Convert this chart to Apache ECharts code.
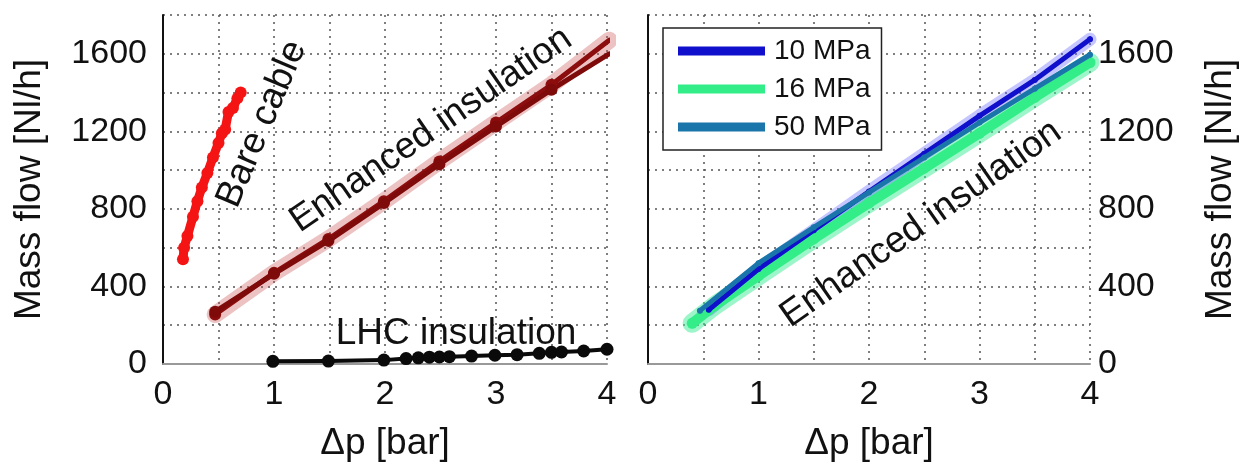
<!DOCTYPE html>
<html>
<head>
<meta charset="utf-8">
<script src="https://cdn.jsdelivr.net/npm/echarts@6/dist/echarts.min.js"></script>
<style>
  html, body { margin: 0; padding: 0; background: #fff; }
  #chart { width: 1244px; height: 467px; }
</style>
</head>
<body>
<div id="chart"></div>
<script>
// Pressure drop (bar) vs. mass flow (Nl/h) for the cable samples.
const bareDp   = [0.18, 0.19, 0.22, 0.27, 0.31, 0.35, 0.40, 0.45, 0.50, 0.53, 0.56, 0.59, 0.63, 0.67, 0.70];
const bareFlow = [540, 600, 660, 760, 840, 910, 985, 1065, 1140, 1190, 1210, 1300, 1320, 1370, 1400];

const enhDp    = [0.47, 1.0, 1.49, 1.99, 2.49, 3.0, 3.5, 4.02];
const enhFlowA = [255, 470, 645, 840, 1045, 1245, 1440, 1670];
const enhFlowB = [270, 465, 635, 830, 1030, 1225, 1415, 1600];

const lhcDp   = [0.99, 1.49, 1.99, 2.19, 2.30, 2.40, 2.49, 2.58, 2.78, 2.99, 3.19, 3.39, 3.50, 3.59, 3.79, 4.0];
const lhcFlow = [14, 15, 20, 28, 32, 35, 36, 38, 41, 45, 48, 55, 60, 62, 67, 76];

// Enhanced insulation at different helium pressures
const mpa10Dp   = [0.55, 1.0, 1.5, 2.0, 2.5, 3.0, 3.5, 4.0];
const mpa10Flow = [280, 490, 690, 890, 1085, 1280, 1465, 1675];
const mpa16Dp   = [0.4, 0.6, 1.0, 1.5, 2.0, 2.5, 3.0, 3.5, 4.0];
const mpa16Flow = [210, 300, 455, 645, 830, 1010, 1190, 1375, 1555];
const mpa50Dp   = [0.47, 1.0, 1.5, 2.0, 2.5, 3.0, 3.5, 4.0];
const mpa50Flow = [275, 520, 705, 885, 1065, 1245, 1420, 1595];

const legendNames = ['10 MPa', '16 MPa', '50 MPa'];
const xLabelTicks = [0, 1, 2, 3, 4];
const yLabelTicks = [0, 400, 800, 1200, 1600];

const pairs = (xs, ys) => xs.map((x, i) => [x, ys[i]]);
const FONT = '"Liberation Sans", Arial, Helvetica, sans-serif';

const gridLine = { show: true, lineStyle: { type: [2, 5], color: '#555', width: 1.5 } };

function xAxisFor(gridIndex) {
  return {
    type: 'value', gridIndex, min: 0, max: 4, interval: 0.5,
    name: 'Δp [bar]', nameLocation: 'middle', nameGap: 61,
    nameTextStyle: { fontSize: 37, color: '#111', fontFamily: FONT },
    axisLine: { show: true, onZero: false, lineStyle: { color: '#999', width: 2 } },
    axisTick: { show: false },
    axisLabel: {
      fontSize: 34, color: '#111', fontFamily: FONT, margin: 14,
      formatter: v => xLabelTicks.includes(v) ? String(v) : ''
    },
    splitLine: gridLine
  };
}

function yAxisFor(gridIndex, position, nameGap) {
  return {
    type: 'value', gridIndex, position, min: 0, max: 1800, interval: 200,
    name: 'Mass flow [Nl/h]', nameLocation: 'middle', nameGap, nameRotate: 90,
    nameTextStyle: { fontSize: 37, color: '#111', fontFamily: FONT },
    axisLine: { show: true, lineStyle: { color: '#111', width: 2 } },
    axisTick: { show: false },
    axisLabel: {
      fontSize: 34, color: '#111', fontFamily: FONT, margin: position === 'left' ? 16 : 8,
      formatter: v => yLabelTicks.includes(v) ? String(v) : ''
    },
    splitLine: gridLine
  };
}

function band(name, xs, ys, color, width, idx) {
  return {
    name, type: 'line', xAxisIndex: idx, yAxisIndex: idx, data: pairs(xs, ys),
    symbol: 'none', lineStyle: { color, width, cap: 'round', join: 'round' }, z: 2, silent: true
  };
}

function run(name, xs, ys, color, width, symbolSize, idx, z) {
  return {
    name, type: 'line', xAxisIndex: idx, yAxisIndex: idx, data: pairs(xs, ys),
    symbol: 'circle', symbolSize, showSymbol: true,
    itemStyle: { color }, lineStyle: { color, width, join: 'round', cap: 'round' }, z: z || 3
  };
}

const chart = echarts.init(document.getElementById('chart'), null, { renderer: 'canvas' });

chart.setOption({
  animation: false,
  backgroundColor: '#fff',
  grid: [
    { left: 163, top: 15, width: 444, height: 351 },
    { left: 648, top: 15, width: 442, height: 351 }
  ],
  xAxis: [xAxisFor(0), xAxisFor(1)],
  yAxis: [yAxisFor(0, 'left', 115), yAxisFor(1, 'right', 112)],
  legend: {
    data: legendNames.map(n => ({ name: n, icon: 'rect' })),
    orient: 'vertical', left: 663, top: 28,
    itemWidth: 87, itemHeight: 9, itemGap: 10,
    padding: [9, 11, 9, 15],
    borderColor: '#222', borderWidth: 1.5, backgroundColor: '#fff',
    textStyle: { fontSize: 28, color: '#111', fontFamily: FONT, lineHeight: 28, padding: [0, 0, 0, 4] },
    selectedMode: false
  },
  graphic: [
    { type: 'text', x: 262, y: 124, rotation: 67 * Math.PI / 180, z: 10,
      style: { text: 'Bare cable', fontSize: 37, fontFamily: FONT, fill: '#111', align: 'center', verticalAlign: 'middle' } },
    { type: 'text', x: 431, y: 130, rotation: 34.6 * Math.PI / 180, z: 10,
      style: { text: 'Enhanced insulation', fontSize: 37, fontFamily: FONT, fill: '#111', align: 'center', verticalAlign: 'middle' } },
    { type: 'text', x: 456, y: 334, z: 10,
      style: { text: 'LHC insulation', fontSize: 37, fontFamily: FONT, fill: '#111', align: 'center', verticalAlign: 'middle' } },
    { type: 'text', x: 921, y: 224, rotation: 35 * Math.PI / 180, z: 10,
      style: { text: 'Enhanced insulation', fontSize: 37, fontFamily: FONT, fill: '#111', align: 'center', verticalAlign: 'middle' } }
  ],
  series: [
    // left panel
    band('enh-band', enhDp, enhFlowA, 'rgba(200,80,80,0.35)', 17, 0),
    run('Enhanced A', enhDp, enhFlowA, '#8c0d0d', 5, 12, 0),
    run('Enhanced B', enhDp, enhFlowB, '#7e0a0a', 5, 12, 0),
    run('Bare cable', bareDp, bareFlow, '#f51414', 9, 12, 0),
    run('LHC insulation', lhcDp, lhcFlow, '#0a0a0a', 4, 13, 0),
    // right panel
    band('16-band', mpa16Dp, mpa16Flow, 'rgba(60,235,150,0.5)', 19, 1),
    band('10-band', mpa10Dp, mpa10Flow, 'rgba(90,90,255,0.35)', 13, 1),
    run('16 MPa', mpa16Dp, mpa16Flow, '#33ee88', 10, 11, 1, 3),
    run('10 MPa', mpa10Dp, mpa10Flow, '#1010cc', 5, 6, 1, 4),
    run('50 MPa', mpa50Dp, mpa50Flow, '#1a75aa', 5, 6, 1, 5)
  ]
});
</script>
</body>
</html>
